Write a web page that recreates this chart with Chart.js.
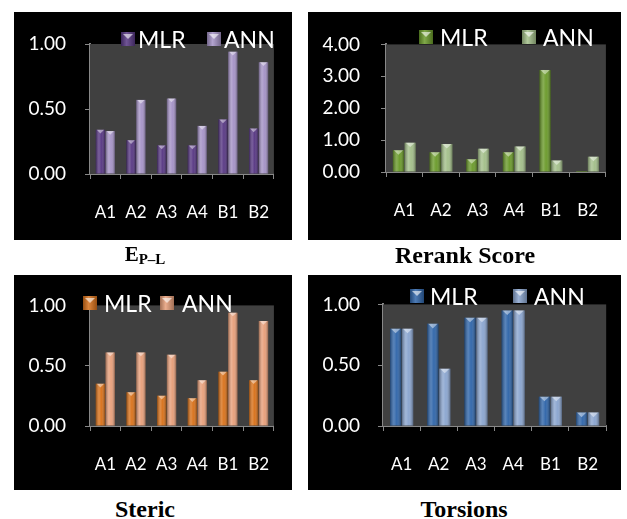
<!DOCTYPE html>
<html>
<head>
<meta charset="utf-8">
<script src="https://cdn.jsdelivr.net/npm/chart.js@4.4.0/dist/chart.umd.min.js"></script>
<style>
  body { margin: 0; background: #fff; width: 627px; height: 519px; position: relative; overflow: hidden; }
  .panel { position: absolute; background: #000; }
  .panel canvas { position: absolute; left: 0; top: 0; }
  .leg { position: absolute; font-family: Lato, sans-serif; font-size: 23px; color: #fff; line-height: 1; white-space: nowrap; }
  .ico { position: absolute; width: 14px; height: 14px; }
  .ico::after { content: ""; position: absolute; left: 2px; top: 2px; border-left: 5px solid transparent; border-right: 5px solid transparent; border-top: 5px solid rgba(255,255,255,0.6); }
  .title { position: absolute; font-family: "Liberation Serif", serif; font-weight: bold; font-size: 24px; color: #000; transform: translateX(-50%); white-space: nowrap; }
</style>
</head>
<body>

<div class="panel" id="p1" style="left:14px;top:12px;width:278px;height:228px;"><canvas id="c1" width="278" height="228"></canvas></div>
<div class="panel" id="p2" style="left:308px;top:12px;width:313px;height:228px;"><canvas id="c2" width="313" height="228"></canvas></div>
<div class="panel" id="p3" style="left:14px;top:275px;width:278px;height:215px;"><canvas id="c3" width="278" height="215"></canvas></div>
<div class="panel" id="p4" style="left:308px;top:275px;width:313px;height:215px;"><canvas id="c4" width="313" height="215"></canvas></div>

<div class="title" style="left:145px;top:242px;font-size:21px;">E<sub style="font-size:15px;vertical-align:-3px;">P–L</sub></div>
<div class="title" style="left:465px;top:242px;">Rerank Score</div>
<div class="title" style="left:145px;top:496px;">Steric</div>
<div class="title" style="left:464px;top:496px;">Torsions</div>

<script>
const categories = ["A1", "A2", "A3", "A4", "B1", "B2"];

const eplMLR = [0.34, 0.26, 0.22, 0.22, 0.42, 0.35];
const eplANN = [0.33, 0.57, 0.58, 0.37, 0.94, 0.86];
const eplTicks = [0, 0.5, 1];

const rerankMLR = [0.68, 0.62, 0.40, 0.62, 3.20, 0.03];
const rerankANN = [0.92, 0.88, 0.73, 0.80, 0.36, 0.48];
const rerankTicks = [0, 1, 2, 3, 4];

const stericMLR = [0.35, 0.28, 0.25, 0.23, 0.45, 0.38];
const stericANN = [0.61, 0.61, 0.59, 0.38, 0.94, 0.87];
const stericTicks = [0, 0.5, 1];

const torsionMLR = [0.80, 0.84, 0.89, 0.95, 0.24, 0.11];
const torsionANN = [0.80, 0.47, 0.89, 0.95, 0.24, 0.11];
const torsionTicks = [0, 0.5, 1];

const seriesNames = ["MLR", "ANN"];

// plot background + 3d-ish shading on each bar
const barLook = {
    id: "barLook",
    beforeDatasetsDraw(chart) {
        const { ctx, chartArea: a } = chart;
        ctx.save();
        ctx.fillStyle = "#404040";
        ctx.fillRect(a.left, a.top, a.right - a.left, a.bottom - a.top);
        ctx.restore();
    },
    afterDatasetsDraw(chart) {
        const ctx = chart.ctx;
        chart.data.datasets.forEach((ds, i) => {
            chart.getDatasetMeta(i).data.forEach(bar => {
                const l = bar.x - bar.width / 2, r = bar.x + bar.width / 2;
                const t = bar.y, b = bar.base;
                if (b - t < 1) return;
                const g = ctx.createLinearGradient(l, 0, r, 0);
                g.addColorStop(0, "rgba(0,0,0,0.35)");
                g.addColorStop(0.35, "rgba(255,255,255,0.20)");
                g.addColorStop(0.6, "rgba(255,255,255,0.03)");
                g.addColorStop(1, "rgba(0,0,0,0.38)");
                ctx.save();
                ctx.fillStyle = g;
                ctx.fillRect(l, t, r - l, b - t);
                const h = Math.min(bar.width * 0.4, b - t);
                ctx.fillStyle = "rgba(255,255,255,0.45)";
                ctx.beginPath();
                ctx.moveTo(l + 1, t);
                ctx.lineTo(r - 1, t);
                ctx.lineTo(bar.x, t + h);
                ctx.closePath();
                ctx.fill();
                ctx.restore();
            });
        });
    }
};

const makeChart = (id, mlr, ann, ticks, colors, box) => {
    new Chart(document.getElementById(id), {
        type: "bar",
        data: {
            labels: categories,
            datasets: [{
                label: seriesNames[0],
                data: mlr,
                backgroundColor: colors[0],
                categoryPercentage: 0.64,
                barPercentage: 0.95
            }, {
                label: seriesNames[1],
                data: ann,
                backgroundColor: colors[1],
                categoryPercentage: 0.64,
                barPercentage: 0.95
            }]
        },
        options: {
            responsive: false,
            animation: false,
            layout: { padding: { top: box.top, right: 0, left: 0, bottom: 0 } },
            plugins: { legend: { display: false }, tooltip: { enabled: false } },
            scales: {
                x: {
                    afterFit: axis => { axis.height = box.xh; },
                    grid: { drawOnChartArea: false, color: "#888", tickLength: 5, offset: true },
                    border: { color: "#888", width: 2 },
                    ticks: { color: "#fff", font: { family: "Lato", size: 17 }, padding: 23 }
                },
                y: {
                    min: ticks[0],
                    max: ticks[ticks.length - 1],
                    afterFit: axis => { axis.width = box.yw; },
                    afterBuildTicks: axis => { axis.ticks = ticks.map(v => ({ value: v })); },
                    grid: { drawOnChartArea: false, color: "#888", tickLength: 5 },
                    border: { color: "#888", width: 2 },
                    ticks: {
                        color: "#fff",
                        font: { family: "Lato", size: 19 },
                        padding: box.yp,
                        callback: v => Number(v).toFixed(2)
                    }
                }
            }
        },
        plugins: [barLook]
    });
};

makeChart("c1", eplMLR, eplANN, eplTicks, ["#573783", "#a593c6"], { top: 32, xh: 66, yw: 76, yp: 19 });
makeChart("c2", rerankMLR, rerankANN, rerankTicks, ["#6a9a2a", "#a3bf8a"], { top: 30, xh: 68, yw: 78, yp: 21 });
makeChart("c3", stericMLR, stericANN, stericTicks, ["#d8711a", "#e79f7a"], { top: 13, xh: 64, yw: 76, yp: 19 });
makeChart("c4", torsionMLR, torsionANN, torsionTicks, ["#2f65a9", "#8aa5cf"], { top: 13, xh: 64, yw: 75, yp: 18 });

// legends as html overlays
const legendSpots = [
    { panel: "p1", y: 19, items: [[107, 124], [193, 210]], colors: ["#573783", "#a593c6"] },
    { panel: "p2", y: 17, items: [[111, 132], [214, 235]], colors: ["#6a9a2a", "#a3bf8a"] },
    { panel: "p3", y: 20, items: [[69, 90], [146, 168]], colors: ["#d8711a", "#e79f7a"] },
    { panel: "p4", y: 13, items: [[102, 122], [205, 226]], colors: ["#2f65a9", "#8aa5cf"] }
];
legendSpots.forEach(spot => {
    const p = document.getElementById(spot.panel);
    spot.items.forEach((it, i) => {
        const ico = document.createElement("div");
        ico.className = "ico";
        ico.style.left = it[0] + "px";
        ico.style.top = (spot.y + 1) + "px";
        ico.style.background = `linear-gradient(90deg, rgba(0,0,0,0.3), rgba(255,255,255,0.15) 40%, rgba(0,0,0,0.3)), ${spot.colors[i]}`;
        p.appendChild(ico);
        const t = document.createElement("div");
        t.className = "leg";
        t.style.left = it[1] + "px";
        t.style.top = (spot.y - 3) + "px";
        t.textContent = seriesNames[i];
        p.appendChild(t);
    });
});
</script>
</body>
</html>
